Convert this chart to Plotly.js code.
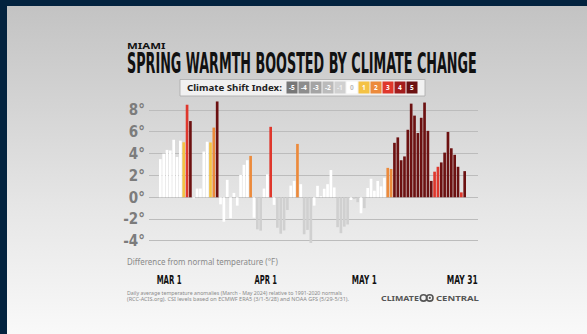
<!DOCTYPE html>
<html><head><meta charset="utf-8">
<script src="https://cdn.plot.ly/plotly-3.0.1.min.js"></script>
<style>
html,body{margin:0;padding:0;}
#wrap{position:relative;width:587px;height:334px;overflow:hidden;background:linear-gradient(to bottom,#c2c2c2 0%,#d3d3d3 30%,#e6e6e6 62%,#f9f9f9 100%);}
#chart{position:absolute;left:0;top:0;width:587px;height:334px;}
.navL{position:absolute;left:0;top:0;width:7px;height:334px;background:#03233f;}
.navT{position:absolute;left:0;top:0;width:587px;height:6px;background:#03233f;}
</style></head><body>
<div id="wrap"><div id="chart"></div><div class="navL"></div><div class="navT"></div></div>
<script>
// ---- data (°F anomaly vs 1991-2020 normals, Miami, Mar–May 2024) ----
const anomalyMar = [3.5,4.0,4.35,4.3,5.28,3.7,5.2,5.05,8.5,7.0, -0.1,0.8,0.8,4.2,5.1,5.03,6.4,8.8,-0.65,-2.25, 1.6,-1.93,0.4,-0.77,2.05,2.98,3.4,3.8,-1.88,-2.95,-3.07];
const anomalyApr = [0.8,2.1,6.47,-0.7,-2.8,-3.35,-3.05,-1.17,1.07,1.5, 4.9,1.2,-3.4,-3.0,-4.2,-0.77,1.05,0.1,0.78,1.2, 2.5,0.9,-2.75,-3.3,-2.7,-2.5,-0.25,-0.15,-0.45,-1.47];
const anomalyMay = [-1.0,0.85,1.7,0.6,1.5,1.0,1.8,2.7,2.6,5.0, 5.5,3.4,3.75,6.2,8.6,7.5,5.9,7.3,8.7,6.1, 1.5,2.35,2.8,3.2,4.1,6.0,4.5,3.9,2.8,0.45,2.4];
// Climate Shift Index level per day
const csiMar = [0,0,0,0,0,0,0,1,3,5, 0,0,0,0,0,1,2,5,0,0, 0,0,0,0,0,0,0,2,0,-1,-1];
const csiApr = [0,0,3,0,-1,-1,-1,-1,0,0, 2,0,-1,-1,-1,0,0,0,0,0, 0,0,-1,-1,-1,-1,0,-1,-1,0];
const csiMay = [-1,0,0,0,0,0,0,2,2,5, 5,5,5,5,5,5,5,5,5,5, 5,3,3,5,5,5,5,5,5,3,5];
const csiLevels = [-5,-4,-3,-2,-1,0,1,2,3,4,5];
const csiColors = ['#777777','#8d8d8d','#a4a4a4','#bbbbbb','#d0d0d0','#ffffff','#f4c244','#ec8a3b','#df372c','#a31d1d','#6c1111'];
const csiTextColors = ['#ffffff','#ffffff','#ffffff','#ffffff','#eeeeee','#bdbdbd','#ffffff','#ffffff','#ffffff','#ffffff','#ffffff'];
const tickDates = ['2024-03-01','2024-04-01','2024-05-01','2024-05-31'];
const tickText = ['MAR 1','APR 1','MAY 1','MAY 31'];
const yTickVals = [-4,-2,0,2,4,6,8];
const yTickText = ['-4°','-2°','0°','2°','4°','6°','8°'];
const footLines = ['Daily average temperature anomalies (March - May 2024) relative to 1991-2020 normals',
                   '(RCC-ACIS.org). CSI levels based on ECMWF ERA5 (3/1-5/28) and NOAA GFS (5/29-5/31).'];

const anomaly = anomalyMar.concat(anomalyApr, anomalyMay);
const csi = csiMar.concat(csiApr, csiMay);
const dates = anomaly.map((_, i) => new Date(Date.UTC(2024, 2, 1 + i)).toISOString().slice(0, 10));
const barColors = csi.map(c => csiColors[csiLevels.indexOf(c)]);

// ---- layout helpers (pixel -> paper) ----
const L = 149, R = 478, T = 97, B = 247;
const px = x => (x - L) / (R - L);
const py = y => (B - y) / (B - T);
const NARROW = "'Liberation Sans Narrow','DejaVu Sans Condensed','Liberation Sans',sans-serif";
const SANS = "'Noto Sans','Open Sans',sans-serif";
const ann = [], fitLen = [], shapes = [];
function txt(text, x, y, size, family, color, anchor, len) {
  ann.push({text: text, xref: 'paper', yref: 'paper', x: px(x), y: py(y),
    xanchor: anchor, yanchor: 'middle', align: anchor, showarrow: false,
    font: {family: family, size: size, color: color}, borderpad: 0});
  fitLen.push(len);
}
txt('<b>MIAMI</b>', 126, 45.6, 8.5, SANS, '#111111', 'left', 38.5);
txt('<b>SPRING WARMTH BOOSTED BY CLIMATE CHANGE</b>', 126, 63.5, 28, NARROW, '#111111', 'left', 350);
// CSI legend
shapes.push({type: 'rect', xref: 'paper', yref: 'paper', x0: px(180), x1: px(425), y0: py(96), y1: py(79.5),
  fillcolor: '#f1f1f1', line: {color: '#a9a9a9', width: 0.8}, layer: 'above'});
txt('<b>Climate Shift Index:</b>', 186, 87.6, 9.5, SANS, '#222222', 'left', 95);
csiLevels.forEach((lv, i) => {
  const x0 = 286.5 + i * 12;
  shapes.push({type: 'rect', xref: 'paper', yref: 'paper', x0: px(x0), x1: px(x0 + 11), y0: py(93.5), y1: py(81.5),
    fillcolor: csiColors[i], line: {width: 0}, layer: 'above'});
  txt('<b>' + lv + '</b>', x0 + 5.5, 87.6, 6.5, SANS, csiTextColors[i], 'center', null);
});
// axis title + x labels + footnotes
txt('Difference from normal temperature (°F)', 126, 261.2, 8.5, SANS, '#8a8a8a', 'left', 151);
const xShift = [9, 2, 0, -2];
const xLen = [25, 22.5, 25, 31];
tickDates.forEach((d, i) => {
  ann.push({text: '<b>' + tickText[i] + '</b>', xref: 'x', yref: 'paper', x: d, y: py(279.6), xshift: xShift[i],
    xanchor: 'center', yanchor: 'middle', align: 'center', showarrow: false, borderpad: 0,
    font: {family: NARROW, size: 12.5, color: '#111111'}});
  fitLen.push(xLen[i]);
});
const footIdx = ann.length;
txt(footLines.join('<br>'), 126, 295.6, 4.6, SANS, '#8a8a8a', 'left', null);
const footLen = [215, 222];
txt('<b>CLIMATE</b>', 380, 297.9, 7.5, SANS, '#555555', 'left', 38);
txt('<b>CENTRAL</b>', 435, 297.9, 7.5, SANS, '#555555', 'left', 43);
// logo rings
shapes.push({type: 'circle', xref: 'paper', yref: 'paper', x0: px(420.3), x1: px(426.7), y0: py(301.1), y1: py(294.7), line: {color: '#555555', width: 1.6}, layer: 'above'});
shapes.push({type: 'circle', xref: 'paper', yref: 'paper', x0: px(426.6), x1: px(433), y0: py(301.1), y1: py(294.7), line: {color: '#555555', width: 1.6}, layer: 'above'});
shapes.push({type: 'circle', xref: 'paper', yref: 'paper', x0: px(428.7), x1: px(430.9), y0: py(299), y1: py(296.8), fillcolor: '#555555', line: {width: 0}, layer: 'above'});

const trace = {type: 'bar', x: dates, y: anomaly, marker: {color: barColors, line: {width: 0}}, hoverinfo: 'skip'};
const layout = {
  width: 587, height: 334, margin: {l: L, r: 587 - R, t: T, b: 334 - B},
  paper_bgcolor: 'rgba(0,0,0,0)', plot_bgcolor: 'rgba(0,0,0,0)', showlegend: false, bargap: 0.2,
  xaxis: {type: 'date', range: ['2024-02-26 14:50', '2024-06-03 23:30'], showticklabels: false, showgrid: false, zeroline: false, showline: false, ticks: ''},
  yaxis: {range: [-4.57, 9.21], tickvals: yTickVals, ticktext: yTickText, showgrid: true, gridcolor: '#bcbcbc', gridwidth: 1,
    zeroline: true, zerolinecolor: '#bcbcbc', zerolinewidth: 1, showline: false, ticks: '', ticklabelstandoff: 3,
    tickfont: {family: NARROW, size: 15, color: '#7c7c7c', weight: 'bold'}},
  annotations: ann, shapes: shapes
};
const gd = document.getElementById('chart');
Plotly.newPlot(gd, [trace], layout, {staticPlot: true, displayModeBar: false}).then(() => {
  gd.querySelectorAll('g.annotation').forEach(g => {
    const i = +g.getAttribute('data-index');
    const t = g.querySelector('text.annotation-text');
    if (!t) return;
    const len = fitLen[i];
    if (len) {
      // rescale font so its natural width equals the target, then restore glyph height around the baseline
      const w = t.getComputedTextLength();
      const fs = ann[i].font.size;
      const s = len / w;
      t.style.fontSize = (fs * s) + 'px';
      const y = parseFloat(t.getAttribute('y')) || 0;
      const prev = t.getAttribute('transform') || '';
      t.setAttribute('transform', (prev + ' translate(0,' + y + ') scale(1,' + (1 / s) + ') translate(0,' + (-y) + ')').trim());
      const bg = g.querySelector('rect.bg');
      if (bg) bg.setAttribute('width', len);
    }
    if (i === footIdx) {
      t.querySelectorAll('tspan.line').forEach((sp, k) => {
        if (footLen[k]) { sp.setAttribute('textLength', footLen[k]); sp.setAttribute('lengthAdjust', 'spacingAndGlyphs'); }
      });
    }
  });
});
</script>
</body></html>
